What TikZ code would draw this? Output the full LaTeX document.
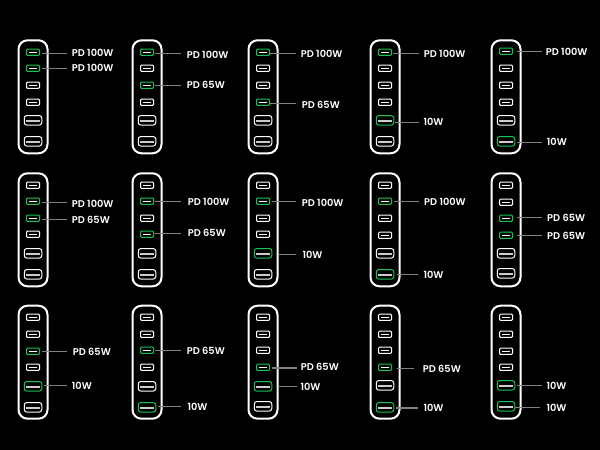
\documentclass[tikz,border=0pt]{standalone}
\usepackage{fontspec}
\setmainfont{Poppins}[BoldFont=Poppins SemiBold]
\definecolor{portgreen}{HTML}{12C455}
\definecolor{wire}{HTML}{808080}
\tikzset{
  body/.style={draw=white,line width=2pt,rounded corners=9pt,fill=black},
  cport/.style={draw=white,line width=1pt,rounded corners=1pt,minimum width=13pt,minimum height=6.2pt,inner sep=0pt},
  aport/.style={draw=white,line width=1pt,rounded corners=2.5pt,minimum width=17.5pt,minimum height=9.5pt,inner sep=0pt},
  on/.style={draw=portgreen},
  wirelin/.style={draw=wire,line width=.9pt},
  tag/.style={text=white,font=\bfseries\fontsize{9.8pt}{11pt}\selectfont,anchor=west,inner sep=0pt},
}
\newcommand{\portc}[4]{\node[cport,#4] (#1) at (#2,#3) {};
  \draw[white,line width=1pt] ([xshift=-4.2pt]#1.center) -- ([xshift=4.2pt]#1.center);}
\newcommand{\porta}[4]{\node[aport,#4] (#1) at (#2,#3) {};
  \draw[white!80!black,line width=1.4pt] ([xshift=-6.8pt,yshift=-.5pt]#1.center) -- ([xshift=6.8pt,yshift=-.5pt]#1.center);}
\newcommand{\board}[5]{% id, cx, top, "y1/y2/y3/y4/y5/y6", "s1/s2/s3/s4/s5/s6"
  \node[body,minimum width=29pt,minimum height=113pt,anchor=north,inner sep=0pt] (#1) at (#2,#3) {};
  \def\pcx{#2}\def\pid{#1}
  \parseports#4;#5;}
\def\parseports#1/#2/#3/#4/#5/#6;#7/#8/#9;{%
  \portc{\pid a}{\pcx}{#1}{#7}\portc{\pid b}{\pcx}{#2}{#8}\parseportsb{#3}{#4}{#5}{#6}{#9}}
\def\parseportsb#1#2#3#4#5{\parseportsc{#1}{#2}{#3}{#4}#5;}
\def\parseportsc#1#2#3#4#5/#6/#7/#8;{%
  \portc{\pid c}{\pcx}{#1}{#5}\portc{\pid d}{\pcx}{#2}{#6}\porta{\pid e}{\pcx}{#3}{#7}\porta{\pid f}{\pcx}{#4}{#8}}
\newcommand{\callout}[8][.9pt]{%
  \coordinate (#2s) at (#3,#4);\coordinate (#2t) at (#5,#4);
  \node[tag] (#2l) at (#6,#7) {#8};
  \draw[wirelin,line width=#1] (#2s) -- (#2t);}
\begin{document}
\begin{tikzpicture}[x=1pt,y=-1pt]
\useasboundingbox[fill=black] (0,0) rectangle (600,450);
% row 1
\board{p1}{33}{39.3}{52.3/68.3/85.3/102.3/120.3/141.3}{on/on/{}/{}/{}/{}}
\board{p2}{147}{39.3}{52.3/68.3/85.3/102.3/120.3/141.3}{on/{}/on/{}/{}/{}}
\board{p3}{263}{39.3}{52.3/68.3/85.3/102.3/120.3/141.3}{on/{}/{}/on/{}/{}}
\board{p4}{385}{39.3}{52.3/68.3/85.3/102.3/120.3/141.3}{on/{}/{}/{}/on/{}}
\board{p5}{506}{39.3}{51.3/68.3/85.3/102.3/120.3/141.3}{on/{}/{}/{}/{}/on}
\callout{p1a}{42.3}{53.5}{67}{71.7}{52.7}{PD 100W}
\callout{p1b}{42.3}{68.3}{67}{71.7}{67.7}{PD 100W}
\callout{p2a}{155}{53.3}{180.7}{186.7}{55}{PD 100W}
\callout{p2c}{155}{85.3}{180.7}{186.7}{85}{PD 65W}
\callout{p3a}{270}{53.3}{295.7}{300.7}{53.7}{PD 100W}
\callout{p3d}{270}{103.3}{295.7}{301.7}{104.7}{PD 65W}
\callout{p4a}{393.3}{53.3}{419}{423.7}{53.7}{PD 100W}
\callout{p4e}{395}{122.3}{419}{423.3}{122}{10W}
\callout{p5a}{516.7}{51.7}{542.3}{545.7}{51.7}{PD 100W}
\callout{p5f}{516.7}{142.3}{542.3}{546.7}{141.7}{10W}
% row 2
\board{q1}{33}{172.3}{185.3/201.3/218.3/234.3/253.3/274.3}{{}/on/on/{}/{}/{}}
\board{q2}{147}{172.3}{185.3/201.3/218.3/234.3/253.3/274.3}{{}/on/{}/on/{}/{}}
\board{q3}{263}{172.3}{185.3/201.3/218.3/234.3/253.3/274.3}{{}/on/{}/{}/on/{}}
\board{q4}{385}{172.3}{185.3/201.3/218.3/235.3/253.3/274.3}{{}/on/{}/{}/{}/on}
\board{q5}{506}{172.3}{185.3/202.3/218.3/235.3/253.3/273.3}{{}/{}/on/on/{}/{}}
\callout{q1b}{42.3}{202.3}{67}{71.7}{203.7}{PD 100W}
\callout{q1c}{42.3}{219}{67}{71.7}{219.7}{PD 65W}
\callout{q2b}{155}{201.3}{180.7}{187.7}{201.7}{PD 100W}
\callout{q2d}{155}{233.3}{180.7}{187.7}{233}{PD 65W}
\callout[1.5pt]{q3b}{271.7}{201.7}{295.7}{301.7}{202.7}{PD 100W}
\callout[1.5pt]{q3e}{278.3}{254.7}{295.7}{302.3}{254.7}{10W}
\callout{q4b}{394}{201.3}{419}{424}{201.7}{PD 100W}
\callout{q4f}{396.7}{274.3}{418.3}{423.3}{274.7}{10W}
\callout{q5c}{517.3}{217.3}{542.3}{547}{218}{PD 65W}
\callout{q5d}{517.3}{235.3}{542.3}{547}{236.3}{PD 65W}
% row 3
\board{r1}{33}{304.7}{317.3/334.3/351.3/367.3/386.3/407.3}{{}/{}/on/{}/on/{}}
\board{r2}{147}{304.7}{317.3/334.3/350.3/367.3/386.3/407.3}{{}/{}/on/{}/{}/on}
\board{r3}{263}{304.7}{317.3/334.3/350.3/367.3/386.3/406.3}{{}/{}/{}/on/on/{}}
\board{r4}{385}{304.7}{317.3/334.3/350.3/367.3/385.3/407.3}{{}/{}/{}/on/{}/on}
\board{r5}{506}{304.7}{317.3/334.3/351.3/367.3/385.3/406.3}{{}/{}/{}/{}/on/on}
\callout{r1c}{42.3}{351.3}{67}{72.7}{351.7}{PD 65W}
\callout{r1e}{44}{385.3}{67}{71.7}{385.7}{10W}
\callout[1.3pt]{r2c}{155}{350.7}{180.7}{186.7}{350.7}{PD 65W}
\callout[1.3pt]{r2f}{158}{406.7}{180.7}{187.3}{406.7}{10W}
\callout[1.3pt]{r3d}{272}{368}{297}{300.7}{366.7}{PD 65W}
\callout[1.3pt]{r3e}{278}{386.7}{297}{300.3}{386.7}{10W}
\callout{r4d}{397}{368.3}{414}{422.7}{368.7}{PD 65W}
\callout[2.4pt]{r4f}{396}{408}{417.7}{423.3}{408.3}{10W}
\callout{r5e}{517.3}{385.3}{542.3}{546.3}{385.7}{10W}
\callout{r5f}{515}{407.3}{540}{546.3}{408.3}{10W}
\end{tikzpicture}
\end{document}
